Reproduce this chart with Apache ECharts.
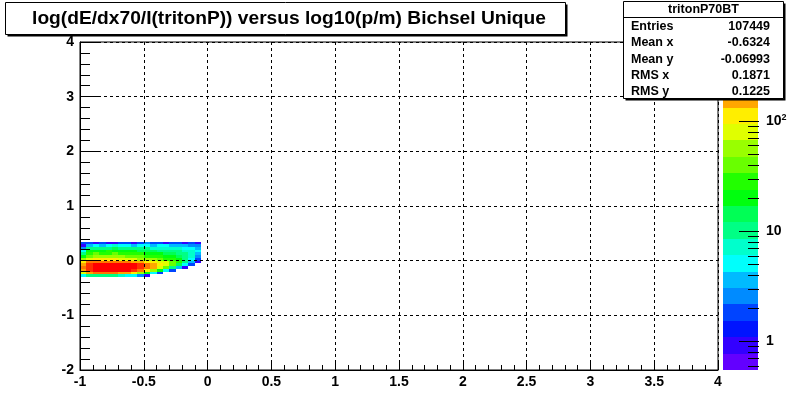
<!DOCTYPE html>
<html><head><meta charset="utf-8">
<script src="https://cdn.jsdelivr.net/npm/echarts@6/dist/echarts.min.js"></script>
<style>html,body{margin:0;padding:0;background:#fff}#c{width:799px;height:412px}</style>
</head><body><div id="c"></div>
<script>
// ---------------- data ----------------
const titleText = 'log(dE/dx70/I(tritonP)) versus log10(p/m) Bichsel Unique';
const binWidthX = 0.05, binWidthY = 0.05;
const xBinLow = [-1.00,-0.95,-0.90,-0.85,-0.80,-0.75,-0.70,-0.65,-0.60,-0.55,-0.50,-0.45,-0.40,-0.35,-0.30,-0.25,-0.20,-0.15,-0.10];
const yBinLow = [0.30,0.25,0.20,0.15,0.10,0.05,0.00,-0.05,-0.10,-0.15,-0.20,-0.25,-0.30];
// bin contents, one array per y row (top row first), one value per x bin
const countsY030  = [  2,  2,  1,  2,  1,  1,  2,  2,  1,  2,  3,  2,  2,  1,  2,  2,  1,  2,  1];
const countsY025  = [  1,  4,  5,  4,  5,  7,  5,  5,  4,  5,  5,  4,  5,  5,  4,  4,  4,  3,  3];
const countsY020  = [  3, 10, 12, 10, 12, 14, 12, 10, 12, 10, 10,  8,  8,  8,  7,  7,  5,  5,  4];
const countsY015  = [  6, 20, 22, 20, 24, 22, 20, 20, 18, 16, 15, 14, 12, 12, 10, 10,  8,  7,  5];
const countsY010  = [ 12, 28, 35, 32, 32, 35, 30, 30, 28, 25, 22, 20, 18, 16, 14, 12, 10,  8,  4];
const countsY005  = [ 22, 45, 55, 50, 52, 50, 48, 42, 40, 36, 32, 28, 25, 22, 18, 15, 12,  7,  3];
const countsY000  = [ 50, 90,110,100,100, 95, 90, 80, 70, 60, 55, 48, 40, 32, 26, 20, 12,  5,  2];
const countsYm005 = [120,200,240,250,240,230,210,190,170,150,130,110, 90, 70, 45, 25, 10,  4,  1];
const countsYm010 = [180,300,400,430,440,420,420,400,380,300,200,160,120, 75, 35, 14,  5,  2,  0];
const countsYm015 = [200,330,430,470,480,460,460,420,390,310,190,140, 90, 40, 12,  4,  1,  0,  0];
const countsYm020 = [170,280,380,420,420,400,400,380,320,230,120, 60, 18,  5,  2,  0,  0,  0,  0];
const countsYm025 = [ 90,160,220,240,230,210,180,140,100, 55, 20,  5,  2,  0,  0,  0,  0,  0,  0];
const countsYm030 = [  6, 10, 12, 12, 10,  9,  8,  6,  5,  3,  1,  0,  0,  0,  0,  0,  0,  0,  0];
const countRows = [countsY030,countsY025,countsY020,countsY015,countsY010,countsY005,countsY000,
                   countsYm005,countsYm010,countsYm015,countsYm020,countsYm025,countsYm030];

const zMin = 0.55, zMax = 520, nLevels = 20;
const paletteColors = ['#6300ff','#3300ff','#0014ff','#0044ff','#008bff','#00bbff','#00fffc','#00ffcc','#00ff85','#00ff55',
                       '#00ff0e','#22ff00','#69ff00','#99ff00','#e0ff00','#ffee00','#ffa700','#ff7700','#ff3000','#ff0000'];
const paletteMajorTicks = [1, 10, 100];
const paletteMinorTicks = [0.6,0.7,0.8,0.9,2,3,4,5,6,7,8,9,20,30,40,50,60,70,80,90];

const statsTitle = 'tritonP70BT';
const statsLabels = ['Entries','Mean x','Mean y','RMS x','RMS y'];
const statsValues = ['107449','-0.6324','-0.06993','0.1871','0.1225'];

// ---------------- layout ----------------
const FONT = '"Liberation Sans", Arial, Helvetica, sans-serif';
const PAL = { left: 723, top: 42, width: 35, height: 328 };

// ---------------- build ----------------
const cells = [];
countRows.forEach((row, r) => row.forEach((v, i) => { if (v > 0) cells.push([xBinLow[i], yBinLow[r], v]); }));

const lzMin = Math.log10(zMin), lzMax = Math.log10(zMax), lStep = (lzMax - lzMin) / nLevels;
const levelEdges = [];
for (let k = 0; k <= nLevels; k++) levelEdges.push(lzMin + k * lStep);
const pieces = paletteColors.map((c, k) => ({ gte: Math.pow(10, levelEdges[k]), lt: Math.pow(10, levelEdges[k + 1]) * (k === nLevels - 1 ? 10 : 1), color: c }));
const paletteBands = paletteColors.map((c, k) => [0, levelEdges[k], levelEdges[k + 1], k]);

// palette axis ticks (decoration of the colour scale), drawn as one polyline path per tick
const paletteTickEls = paletteMajorTicks.map(v => [Math.log10(v), 19]).concat(paletteMinorTicks.map(v => [Math.log10(v), 10]))
  .map(t => {
    const y = Math.round(PAL.top + PAL.height * (lzMax - t[0]) / (lzMax - lzMin));
    const xr = PAL.left + PAL.width + 1;
    return { type: 'rect', z: 150, silent: true, shape: { x: xr - t[1] - 1, y: y, width: t[1] + 1, height: 1 }, style: { fill: '#000000', opacity: 1 } };
  });

const chart = echarts.init(document.getElementById('c'), null, { renderer: 'canvas' });

function cellRender(params, api) {
  const x0 = api.value(0), y0 = api.value(1);
  const p0 = api.coord([x0, y0 + binWidthY]);
  const p1 = api.coord([x0 + binWidthX, y0]);
  const x = Math.round(p0[0]), y = Math.round(p0[1]);
  return { type: 'rect', shape: { x: x, y: y, width: Math.round(p1[0]) - x, height: Math.round(p1[1]) - y },
           style: { fill: api.visual('color') } };
}
function bandRender(params, api) {
  const p0 = api.coord([0, api.value(2)]);
  const p1 = api.coord([1, api.value(1)]);
  const x = Math.round(p0[0]), y = Math.round(p0[1]);
  return { type: 'rect', shape: { x: x, y: y, width: Math.round(p1[0]) - x, height: Math.round(p1[1]) - y },
           style: { fill: paletteColors[api.value(3)] } };
}

const axisLabelStyle = { color: '#000', fontFamily: FONT, fontWeight: 'bold', fontSize: 14 };
const blackLine = { color: '#000', width: 1 };
const gridDash = { color: '#000', width: 1, type: [3, 3] };

const graphicEls = [
    // title box
    { type: 'rect', z: 100, shape: { x: 7.5, y: 4.5, width: 560, height: 32 }, style: { fill: '#000' } },
    { type: 'rect', z: 101, shape: { x: 5.5, y: 2.5, width: 560, height: 32 }, style: { fill: '#fff', stroke: '#000', lineWidth: 1 } },
    { type: 'text', z: 102, style: { text: titleText, x: 289, y: 19, font: 'bold 19.2px ' + FONT, fill: '#000', textAlign: 'center', textVerticalAlign: 'middle' } },
    // stats box
    { type: 'rect', z: 100, shape: { x: 625.5, y: 3.5, width: 160, height: 97 }, style: { fill: '#000' } },
    { type: 'rect', z: 101, shape: { x: 623.5, y: 1.5, width: 160, height: 97 }, style: { fill: '#fff', stroke: '#000', lineWidth: 1 } },
    { type: 'line', z: 102, shape: { x1: 623.5, y1: 17.5, x2: 783.5, y2: 17.5 }, style: { stroke: '#000', lineWidth: 1 } },
    { type: 'text', z: 102, style: { text: statsTitle, x: 703.5, y: 10, font: 'bold 12.5px ' + FONT, fill: '#000', textAlign: 'center', textVerticalAlign: 'middle' } }
  ].concat(statsLabels.map((t, i) => ({ type: 'text', z: 102, style: { text: t, x: 631, y: 26.7 + 16.2 * i, font: 'bold 12.5px ' + FONT, fill: '#000', textAlign: 'left', textVerticalAlign: 'middle' } })))
   .concat(statsValues.map((t, i) => ({ type: 'text', z: 102, style: { text: t, x: 770, y: 26.7 + 16.2 * i, font: 'bold 12.5px ' + FONT, fill: '#000', textAlign: 'right', textVerticalAlign: 'middle' } })))
   .concat(paletteTickEls);

const option = {
  animation: false,
  backgroundColor: '#fff',
  grid: [
    { left: 80, top: 42, width: 638, height: 328, show: true, borderColor: '#000', borderWidth: 1, backgroundColor: 'transparent' },
    { left: PAL.left, top: PAL.top, width: PAL.width, height: PAL.height, show: false }
  ],
  xAxis: [
    { gridIndex: 0, type: 'value', min: -1, max: 4, interval: 0.5, position: 'bottom', z: 10,
      axisLine: { show: true, onZero: false, lineStyle: blackLine },
      axisTick: { show: true, inside: true, length: 10, lineStyle: blackLine },
      minorTick: { show: true, splitNumber: 5, length: 5, lineStyle: blackLine },
      axisLabel: Object.assign({ margin: 5 }, axisLabelStyle),
      splitLine: { show: true, lineStyle: gridDash } },
    { gridIndex: 1, type: 'value', min: 0, max: 1, show: false }
  ],
  yAxis: [
    { gridIndex: 0, type: 'value', min: -2, max: 4, interval: 1, position: 'left', z: 10,
      axisLine: { show: true, onZero: false, lineStyle: blackLine },
      axisTick: { show: true, inside: true, length: 19, lineStyle: blackLine },
      minorTick: { show: true, splitNumber: 5, length: 10, lineStyle: blackLine },
      axisLabel: Object.assign({ margin: 6 }, axisLabelStyle),
      splitLine: { show: true, lineStyle: gridDash } },
    { gridIndex: 1, type: 'value', min: lzMin, max: lzMax, position: 'right', z: 10,
      axisLine: { show: false },
      axisTick: { show: false },
      axisLabel: Object.assign({ margin: 8, customValues: paletteMajorTicks.map(Math.log10),
        formatter: function (v) { const e = Math.round(v); return e === 0 ? '1' : (e === 1 ? '10' : '10{sup|' + e + '}'); },
        rich: { sup: { fontSize: 9, fontWeight: 'bold', fontFamily: FONT, color: '#000', verticalAlign: 'top', padding: [0, 0, 6, 0] } } }, axisLabelStyle),
      splitLine: { show: false } }
  ],
  visualMap: { type: 'piecewise', show: false, dimension: 2, seriesIndex: 0, pieces: pieces },
  series: [
    { type: 'custom', xAxisIndex: 0, yAxisIndex: 0, data: cells, encode: { x: 0, y: 1 }, renderItem: cellRender, clip: true, z: 2 },
    { type: 'custom', xAxisIndex: 1, yAxisIndex: 1, data: paletteBands, encode: { x: 0, y: [1, 2] }, renderItem: bandRender, z: 2 }
  ],
  graphic: { elements: graphicEls }
};
chart.setOption(option);
</script>
</body></html>
